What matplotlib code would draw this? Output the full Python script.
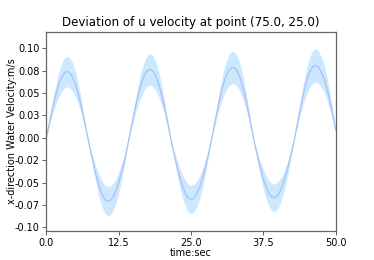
import numpy as np
from matplotlib import pyplot as plt

# time samples (sec)
t = np.arange(0, 50.01, 0.5)

# mean u velocity deviation (m/s)
u_mean = [
    0.0000, 0.0161, 0.0314, 0.0452, 0.0569, 0.0659, 0.0718, 0.0742, 0.0729, 0.0682,
    0.0603, 0.0494, 0.0361, 0.0210, 0.0049, -0.0109, -0.0260, -0.0399, -0.0518, -0.0612,
    -0.0676, -0.0706, -0.0703, -0.0665, -0.0596, -0.0500, -0.0381, -0.0247, -0.0093, 0.0067,
    0.0230, 0.0383, 0.0518, 0.0627, 0.0707, 0.0754, 0.0764, 0.0737, 0.0675, 0.0579,
    0.0457, 0.0312, 0.0151, -0.0015, -0.0166, -0.0309, -0.0436, -0.0541, -0.0620, -0.0673,
    -0.0690, -0.0674, -0.0627, -0.0548, -0.0444, -0.0319, -0.0179, -0.0030, 0.0137, 0.0302,
    0.0453, 0.0584, 0.0685, 0.0752, 0.0785, 0.0780, 0.0738, 0.0660, 0.0549, 0.0412,
    0.0256, 0.0087, -0.0074, -0.0219, -0.0351, -0.0468, -0.0561, -0.0628, -0.0663, -0.0668,
    -0.0640, -0.0581, -0.0495, -0.0385, -0.0256, -0.0114, 0.0036, 0.0209, 0.0373, 0.0521,
    0.0644, 0.0736, 0.0793, 0.0810, 0.0789, 0.0731, 0.0660, 0.0540, 0.0400, 0.0245,
    0.0085,
]

# spread (std) around the mean
u_std = [
    0.0003, 0.0037, 0.0072, 0.0104, 0.0131, 0.0152, 0.0165, 0.0171, 0.0168, 0.0157,
    0.0139, 0.0114, 0.0083, 0.0048, 0.0011, 0.0025, 0.0060, 0.0092, 0.0119, 0.0141,
    0.0155, 0.0162, 0.0162, 0.0153, 0.0137, 0.0115, 0.0088, 0.0057, 0.0021, 0.0015,
    0.0053, 0.0088, 0.0119, 0.0144, 0.0163, 0.0173, 0.0176, 0.0170, 0.0155, 0.0133,
    0.0105, 0.0072, 0.0035, 0.0004, 0.0038, 0.0071, 0.0100, 0.0124, 0.0143, 0.0155,
    0.0159, 0.0155, 0.0144, 0.0126, 0.0102, 0.0073, 0.0041, 0.0007, 0.0032, 0.0069,
    0.0104, 0.0134, 0.0158, 0.0173, 0.0181, 0.0179, 0.0170, 0.0152, 0.0126, 0.0095,
    0.0059, 0.0020, 0.0017, 0.0050, 0.0081, 0.0108, 0.0129, 0.0144, 0.0152, 0.0154,
    0.0147, 0.0134, 0.0114, 0.0089, 0.0059, 0.0026, 0.0008, 0.0048, 0.0086, 0.0120,
    0.0148, 0.0169, 0.0182, 0.0186, 0.0181, 0.0168, 0.0152, 0.0124, 0.0092, 0.0056,
    0.0020,
]

x_ticks = [0.0, 12.5, 25.0, 37.5, 50.0]
x_labels = ["0.0", "12.5", "25.0", "37.5", "50.0"]
y_ticks = [-0.1, -0.075, -0.05, -0.025, 0.0, 0.025, 0.05, 0.075, 0.1]
y_labels = ["-0.10", "-0.07", "-0.05", "-0.02", "0.00", "0.03", "0.05", "0.08", "0.10"]

u_mean = np.array(u_mean)
u_std = np.array(u_std)

fig = plt.figure(figsize=(3.74, 2.6), dpi=100)
ax = fig.add_axes([0.124, 0.112, 0.774, 0.766])

ax.fill_between(t, u_mean - u_std, u_mean + u_std, color="#cce8ff", linewidth=0)
ax.plot(t, u_mean, color="#a8c0f4", linewidth=0.9)

ax.set_xlim(0, 50)
ax.set_ylim(-0.104, 0.1185)
ax.set_xticks(x_ticks)
ax.set_xticklabels(x_labels)
ax.set_yticks(y_ticks)
ax.set_yticklabels(y_labels)
ax.tick_params(labelsize=7, length=3, width=0.6, pad=2, color="#444444")

for sp in ax.spines.values():
    sp.set_color("#666666")
    sp.set_linewidth(0.9)

ax.set_title("Deviation of u velocity at point (75.0, 25.0)", fontsize=8.6, pad=4)
ax.set_xlabel("time:sec", fontsize=7, labelpad=0)
ax.set_ylabel("x-direction Water Velocity:m/s", fontsize=7)
ax.yaxis.set_label_coords(-0.102, 0.5)

plt.savefig("out.png", dpi=100)
